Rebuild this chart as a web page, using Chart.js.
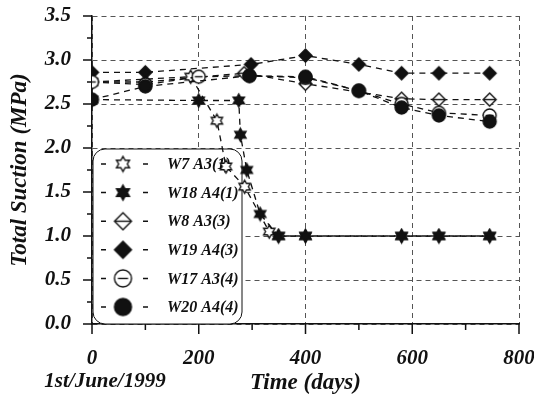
<!DOCTYPE html>
<html>
<head>
<meta charset="utf-8">
<script src="https://cdn.jsdelivr.net/npm/chart.js@4"></script>
<style>
  html, body { margin: 0; padding: 0; background: #fff; }
  #wrap { width: 534px; height: 400px; }
</style>
</head>
<body>
<div id="wrap"><canvas id="suction-chart" width="534" height="400"></canvas></div>
<script>
// series: days since 1st June 1999, total suction (MPa)
const w7Days = [0, 185, 234, 251, 286, 332, 350, 400, 580, 650, 745]
const w7Suction = [2.75, 2.81, 2.31, 1.79, 1.56, 1.05, 1.0, 1.0, 1.0, 1.0, 1.0]

const w18Days = [0, 200, 275, 278, 290, 315, 349, 400, 580, 650, 745]
const w18Suction = [2.55, 2.54, 2.54, 2.15, 1.75, 1.25, 1.0, 1.0, 1.0, 1.0, 1.0]

const w8Days = [0, 100, 285, 400, 580, 650, 745]
const w8Suction = [2.75, 2.75, 2.85, 2.73, 2.56, 2.55, 2.55]

const w19Days = [0, 100, 298, 400, 500, 580, 650, 745]
const w19Suction = [2.86, 2.86, 2.95, 3.05, 2.95, 2.85, 2.85, 2.85]

const w17Days = [0, 100, 200, 295, 400, 500, 580, 650, 745]
const w17Suction = [2.75, 2.72, 2.81, 2.82, 2.80, 2.65, 2.50, 2.40, 2.37]

const w20Days = [0, 100, 295, 400, 500, 580, 650, 745]
const w20Suction = [2.55, 2.70, 2.82, 2.81, 2.65, 2.46, 2.37, 2.30]

const seriesNames = ["W7 A3(1)", "W18 A4(1)", "W8 A3(3)", "W19 A4(3)", "W17 A3(4)", "W20 A4(4)"]
const seriesMarkers = ["starOpen", "starFilled", "diamondOpen", "diamondFilled", "circleOpen", "circleFilled"]

const xTickLabels = ["0", "200", "400", "600", "800"]
const yTickLabels = ["0.0", "0.5", "1.0", "1.5", "2.0", "2.5", "3.0", "3.5"]

const serif = "'Liberation Serif', 'Times New Roman', serif"
const ink = "#111"

// draws one marker into a small canvas, used as a Chart.js pointStyle
function makeMarker(kind, size) {
  let c = document.createElement("canvas")
  c.width = c.height = size + 4
  let ctx = c.getContext("2d")
  let m = c.width / 2
  let r = size / 2
  let filled = kind.endsWith("Filled")
  ctx.lineWidth = 1.4
  ctx.strokeStyle = ink
  ctx.fillStyle = filled ? ink : "#fff"
  ctx.beginPath()
  if (kind.startsWith("star")) {
    for (let k = 0; k < 12; k++) {
      let a = -Math.PI / 2 + (k * Math.PI) / 6
      let rr = k % 2 === 0 ? r : r / Math.sqrt(3)
      let px = m + rr * Math.cos(a)
      let py = m + rr * Math.sin(a)
      if (k === 0) ctx.moveTo(px, py)
      else ctx.lineTo(px, py)
    }
    ctx.closePath()
  } else if (kind.startsWith("diamond")) {
    ctx.moveTo(m, m - r)
    ctx.lineTo(m + r, m)
    ctx.lineTo(m, m + r)
    ctx.lineTo(m - r, m)
    ctx.closePath()
  } else {
    ctx.arc(m, m, r, 0, Math.PI * 2)
  }
  ctx.fill()
  ctx.stroke()
  if (!filled && !kind.startsWith("star")) {
    let half = kind.startsWith("diamond") ? r - 1 : r * 0.6
    ctx.beginPath()
    ctx.moveTo(m - half, m)
    ctx.lineTo(m + half, m)
    ctx.stroke()
  }
  return c
}

function plotSize(kind) {
  return 13
}

function legendSize(kind) {
  if (kind.startsWith("star")) return 15
  return 17
}

function toPoints(days, values) {
  return days.map((d, i) => ({ x: d, y: values[i] }))
}

const seriesData = [
  toPoints(w7Days, w7Suction),
  toPoints(w18Days, w18Suction),
  toPoints(w8Days, w8Suction),
  toPoints(w19Days, w19Suction),
  toPoints(w17Days, w17Suction),
  toPoints(w20Days, w20Suction),
]

// later series sit on top, like in the original plot
let datasets = seriesNames.map((name, i) => ({
  label: name,
  data: seriesData[i],
  showLine: true,
  fill: false,
  tension: 0,
  borderColor: ink,
  borderWidth: 1.3,
  borderDash: [6, 5],
  pointStyle: makeMarker(seriesMarkers[i], plotSize(seriesMarkers[i])),
  pointRadius: 6,
  pointHoverRadius: 6,
  order: seriesNames.length - i,
}))

function roundedBox(ctx, x, y, w, h, r) {
  ctx.beginPath()
  ctx.moveTo(x + r, y)
  ctx.arcTo(x + w, y, x + w, y + h, r)
  ctx.arcTo(x + w, y + h, x, y + h, r)
  ctx.arcTo(x, y + h, x, y, r)
  ctx.arcTo(x, y, x + w, y, r)
  ctx.closePath()
}

// legend box in the lower left corner of the plot
const boxLegend = {
  id: "boxLegend",
  beforeDatasetsDraw(chart) {
    let ctx = chart.ctx
    let area = chart.chartArea
    let left = area.left + 1
    let top = 149
    let width = 149
    let height = area.bottom - top
    ctx.save()
    roundedBox(ctx, left, top, width, height, 12)
    ctx.fillStyle = "#fff"
    ctx.fill()
    ctx.lineWidth = 1
    ctx.strokeStyle = ink
    ctx.stroke()

    ctx.font = "italic bold 16px " + serif
    ctx.textBaseline = "middle"
    ctx.textAlign = "left"
    ctx.fillStyle = ink
    seriesNames.forEach((name, i) => {
      let cy = 164 + i * 28.6
      ctx.lineWidth = 1.5
      ctx.beginPath()
      ctx.moveTo(left + 8, cy)
      ctx.lineTo(left + 13, cy)
      ctx.moveTo(left + 50, cy)
      ctx.lineTo(left + 55, cy)
      ctx.stroke()
      let mk = makeMarker(seriesMarkers[i], legendSize(seriesMarkers[i]))
      ctx.drawImage(mk, left + 30 - mk.width / 2, cy - mk.height / 2)
      ctx.fillText(name, left + 74, cy + 1)
    })
    ctx.restore()
  },
}

// outward axis ticks (major and minor) and the start-date note
const axisDecor = {
  id: "axisDecor",
  afterDraw(chart) {
    let ctx = chart.ctx
    let xs = chart.scales.x
    let ys = chart.scales.y
    ctx.save()
    ctx.strokeStyle = ink
    ctx.lineWidth = 1.5
    ctx.beginPath()
    for (let d = 0; d <= 800; d += 100) {
      let px = xs.getPixelForValue(d)
      let len = d % 200 === 0 ? 10 : 6
      ctx.moveTo(px, ys.bottom)
      ctx.lineTo(px, ys.bottom + len)
    }
    for (let k = 0; k <= 14; k++) {
      let py = ys.getPixelForValue(k * 0.25)
      let len = k % 2 === 0 ? 9 : 5
      ctx.moveTo(xs.left, py)
      ctx.lineTo(xs.left - len, py)
    }
    ctx.stroke()

    ctx.fillStyle = ink
    ctx.font = "italic bold 21px " + serif
    ctx.textAlign = "center"
    ctx.textBaseline = "middle"
    ctx.fillText("1st/June/1999", 105, 382)
    ctx.restore()
  },
}

const tickFont = { family: serif, size: 21, style: "italic", weight: "bold" }

let ctxChart = document.getElementById("suction-chart").getContext("2d")
let suctionChart = new Chart(ctxChart, {
  type: "scatter",
  data: { datasets: datasets },
  options: {
    responsive: false,
    animation: false,
    events: [],
    layout: { padding: { top: 16, right: 15, left: 0, bottom: 0 } },
    plugins: {
      legend: { display: false },
      tooltip: { enabled: false },
    },
    scales: {
      x: {
        type: "linear",
        min: 0,
        max: 800,
        ticks: {
          stepSize: 200,
          maxRotation: 0,
          padding: 22,
          color: ink,
          font: tickFont,
          callback: (v) => xTickLabels[v / 200],
        },
        grid: { color: "#555", lineWidth: 1, drawTicks: false },
        border: { color: ink, width: 1.5, dash: [5, 4] },
        title: {
          display: true,
          text: "Time (days)",
          color: ink,
          font: { family: serif, size: 23, style: "italic", weight: "bold" },
          padding: { top: 0, bottom: 3 },
        },
        afterFit: (s) => {
          s.height = 76
          s.paddingLeft = 0
          s.paddingRight = 0
        },
      },
      y: {
        min: 0,
        max: 3.5,
        ticks: {
          stepSize: 0.5,
          padding: 21,
          color: ink,
          font: tickFont,
          callback: (v) => yTickLabels[Math.round(v / 0.5)],
        },
        grid: { color: "#555", lineWidth: 1, drawTicks: false },
        border: { color: ink, width: 1.5, dash: [5, 4] },
        title: {
          display: true,
          text: "Total Suction (MPa)",
          color: ink,
          font: { family: serif, size: 23, style: "italic", weight: "bold" },
          padding: { top: 6, bottom: 0 },
        },
        afterFit: (s) => {
          s.width = 92
          s.paddingTop = 0
          s.paddingBottom = 0
        },
      },
    },
  },
  plugins: [boxLegend, axisDecor],
})
</script>
</body>
</html>
